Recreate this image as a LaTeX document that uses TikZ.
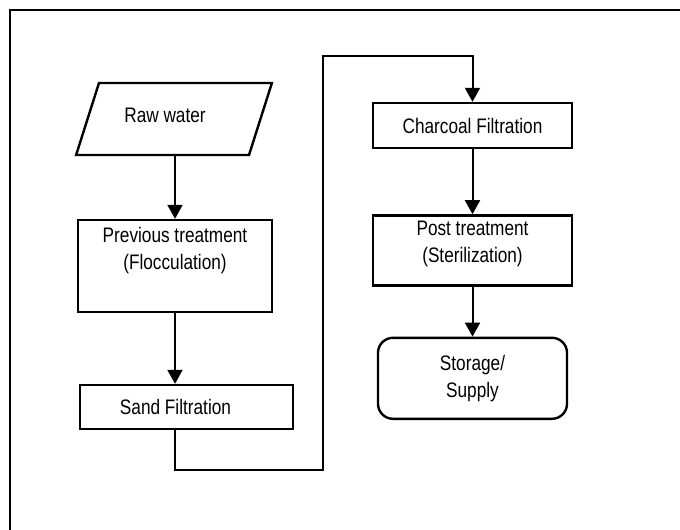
\documentclass[tikz,border=0pt]{standalone}
\usepackage{fontspec}
\setmainfont{Liberation Sans}[FakeStretch=0.82]
\usetikzlibrary{arrows.meta, positioning, shapes.geometric}

\begin{document}
\begin{tikzpicture}[x=1pt, y=-1pt, line width=2.4pt,
    font=\fontsize{21}{27}\selectfont,
    box/.style={draw, rectangle, align=center, inner sep=0pt},
    flow/.style={line width=2pt, -{Triangle[width=15pt, length=14pt]}}]
    \useasboundingbox (0,0) rectangle (680,530);
    \draw (10,530) -- (10,10) -- (680,10);

    \node[draw, trapezium, trapezium left angle=56, trapezium right angle=124,
          trapezium stretches=true, minimum width=196pt, minimum height=72pt,
          inner sep=0pt] (raw) at (174,119) {\raisebox{8pt}{Raw water\hspace*{18pt}}};
    \node[box, minimum width=194pt, minimum height=92pt, text depth=36pt] (prev) at (175,266) {Previous treatment\\(Flocculation)};
    \node[box, minimum width=213pt, minimum height=44pt] (sand) at (186.5,407) {Sand Filtration\hspace*{22pt}};
    \node[box, minimum width=199pt, minimum height=45pt] (charcoal) at (472.5,125.5) {Charcoal Filtration};
    \node[box, minimum width=199pt, minimum height=70pt] (post) [below=65pt of charcoal] {Post treatment\\(Sterilization)\\[-10pt]\mbox{}};
    \node[box, rounded corners=15pt, minimum width=189pt, minimum height=81pt] (store) [below=50pt of post] {Storage/\\Supply};

    \coordinate (low) at (323,470);
    \coordinate (high) at (charcoal.north |- 0,56);

    \draw[flow] (raw.south -| prev.north) -- (prev.north);
    \draw[flow] (prev.south) -- (prev.south |- sand.north);
    \draw[flow] (sand.south -| prev.south) |- (low) |- (high) -- (charcoal.north);
    \draw[flow] (charcoal) -- (post);
    \draw[flow] (post) -- (store);
\end{tikzpicture}
\end{document}
